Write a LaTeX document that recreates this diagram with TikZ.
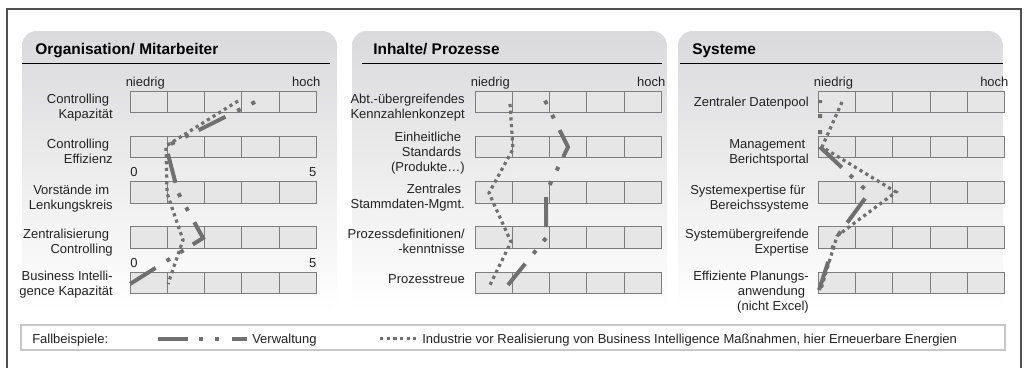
\documentclass[tikz,border=0pt]{standalone}
\usepackage{fontspec}
\setmainfont{Liberation Sans}
\definecolor{linegray}{RGB}{112,112,112}
\definecolor{paneltop}{RGB}{218,218,220}
\definecolor{cellgray}{RGB}{230,230,230}
\definecolor{cellborder}{RGB}{125,125,125}
\definecolor{txt}{RGB}{35,35,35}
\definecolor{framegray}{RGB}{80,80,80}
\definecolor{legendborder}{RGB}{200,200,200}
\newcommand\tsp{\kern2.7pt}
\tikzset{
  lbl/.style={font=\fontsize{9.75pt}{11.25pt}\selectfont, text=txt, inner sep=0pt, align=right, anchor=base east},
  plain/.style={font=\fontsize{9.75pt}{11.25pt}\selectfont, text=txt, inner sep=0pt},
  paneltitle/.style={font=\fontsize{11.6pt}{14pt}\selectfont\bfseries, text=black, inner sep=0pt, anchor=base west},
  cell/.style={fill=cellgray, draw=cellborder, line width=0.75pt},
  panelbg/.style={top color=paneltop, bottom color=white, rounded corners=11pt},
  verw/.style={draw=linegray, line width=3pt, dash pattern=on 22.5pt off 8.25pt on 3pt off 9pt on 3pt off 9.75pt},
  indu/.style={draw=linegray, line width=2.4pt, dash pattern=on 2.4pt off 2.6pt},
}
\begin{document}
\begin{tikzpicture}[x=0.75pt,y=-0.75pt]
\useasboundingbox (0,0) rectangle (1030,368);
% outer frame
\draw[framegray, line width=1.3pt] (7,368) -- (7,9) -- (1021,9) -- (1021,368);
% panels
\shade[panelbg] (22,31) rectangle (337,312);
\shade[panelbg] (352,31) rectangle (667,312);
\shade[panelbg] (678,31) rectangle (1003,312);
\draw[black, line width=0.8pt] (22,63.5) -- (330,63.5);
\draw[black, line width=0.8pt] (362,63.5) -- (662,63.5);
\draw[black, line width=0.8pt] (680,63.5) -- (1003,63.5);
\node[paneltitle] (t1) at (35,54.7) {Organisation/ Mitarbeiter};
\node[paneltitle] (t2) at (373,54.7) {Inhalte/ Prozesse};
\node[paneltitle] (t3) at (692,54.7) {Systeme};
% scale boxes
\foreach \xo in {130,475,818.2}{
  \foreach \r in {0,...,4}{
    \foreach \c in {0,...,4}{
      \draw[cell] ({\xo+37.3*\c},{91+45.25*\r}) rectangle ({\xo+37.3*(\c+1)},{112.5+45.25*\r});
    }
  }
}
% niedrig / hoch
\node[plain, anchor=base west] (n1) at (125.5,86) {niedrig};
\node[plain, anchor=base east] (h1) at (320.5,86) {hoch};
\node[plain, anchor=base west] (n2) at (470.5,86) {niedrig};
\node[plain, anchor=base east] (h2) at (665.5,86) {hoch};
\node[plain, anchor=base west] (n3) at (813.7,86) {niedrig};
\node[plain, anchor=base east] (h3) at (1008.7,86) {hoch};
% 0 / 5
\node[plain, anchor=base west] (z1) at (130,176) {0};
\node[plain, anchor=base east] (f1) at (316.5,176) {5};
\node[plain, anchor=base west] (z2) at (130,267.5) {0};
\node[plain, anchor=base east] (f2) at (316.5,267.5) {5};
% row labels panel 1 (anchored at the baseline of the last line)
\node[lbl] (l11) at (113,118.3) {Controlling\tsp\\Kapazität};
\node[lbl] (l12) at (113,163.3) {Controlling\tsp\\Effizienz};
\node[lbl] (l13) at (113,209) {Vorstände im\tsp\\Lenkungskreis};
\node[lbl] (l14) at (113,253.5) {Zentralisierung\tsp\\Controlling};
\node[lbl] (l15) at (113,295.5) {Business Intelli-\\gence Kapazität};
% row labels panel 2
\node[lbl] (l21) at (465,118.3) {Abt.-übergreifendes\\Kennzahlenkonzept};
\node[lbl] (l22) at (465,171) {Einheitliche\tsp\\Standards\tsp\\(Produkte…)};
\node[lbl] (l23) at (465,208.3) {Zentrales\tsp\\Stammdaten-Mgmt.};
\node[lbl] (l24) at (465,253.5) {Prozessdefinitionen/\\-kenntnisse};
\node[lbl] (l25) at (465,283.3) {Prozesstreue};
% row labels panel 3
\node[lbl] (l31) at (809,106.7) {Zentraler Datenpool};
\node[lbl] (l32) at (809,163.3) {Management\tsp\\Berichtsportal};
\node[lbl] (l33) at (809,209) {Systemexpertise für\tsp\\Bereichssysteme};
\node[lbl] (l34) at (809,253.5) {Systemübergreifende\\Expertise};
\node[lbl] (l35) at (809,310.5) {Effiziente Planungs-\\anwendung\tsp\\(nicht Excel)};
% profile points
\coordinate (va1) at (255,102);   \coordinate (va2) at (166,146.5);
\coordinate (va3) at (178,192.5); \coordinate (va4) at (203,238);
\coordinate (va5) at (130,284);
\coordinate (ia1) at (238,101);   \coordinate (ia2) at (166,146);
\coordinate (ia3) at (167,193);   \coordinate (ia4) at (183,240);
\coordinate (ia5) at (168,284);
\coordinate (vb1) at (545,100.5); \coordinate (vb2) at (568,147);
\coordinate (vb3) at (546,192.5); \coordinate (vb4) at (546,238);
\coordinate (vb5) at (508,285);
\coordinate (ib1) at (510,104);   \coordinate (ib2) at (513,149);
\coordinate (ib3) at (489,193);   \coordinate (ib4) at (511,242);
\coordinate (ib5) at (489,287);
\coordinate (vc1) at (820,100);   \coordinate (vc2) at (820,147);
\coordinate (vc3) at (869,193);   \coordinate (vc4) at (836,238);
\coordinate (vc5) at (819,290);
\coordinate (ic1) at (842,102);   \coordinate (ic2) at (822,147);
\coordinate (ic3) at (896,192);   \coordinate (ic4) at (837,236);
\coordinate (ic5) at (821,289);
% Verwaltung profiles
\draw[verw, dash phase=30.75pt] (va1) -- (va2) -- (va3) -- (va4) -- (va5);
\draw[verw, dash phase=30.75pt] (vb1) -- (vb2) -- (vb3) -- (vb4) -- (vb5);
\draw[verw, dash phase=20.25pt] (vc1) -- (vc2) -- (vc3) -- (vc4) -- (vc5);
% Industrie profiles
\draw[indu] (ia1) -- (ia2) -- (ia3) -- (ia4) -- (ia5);
\draw[indu] (ib1) -- (ib2) -- (ib3) -- (ib4) -- (ib5);
\draw[indu] (ic1) -- (ic2) -- (ic3) -- (ic4) -- (ic5);
% legend
\draw[legendborder, line width=0.9pt, fill=white] (21,325) rectangle (1005,350);
\node[plain, anchor=base west] (lg0) at (32,343) {Fallbeispiele:};
\coordinate (lv1) at (158,338.5); \coordinate (lv2) at (247,338.5);
\draw[verw] (lv1) -- (lv2);
\node[plain, anchor=base west] (lg1) at (252,343) {Verwaltung};
\coordinate (li1) at (380,338.5); \coordinate (li2) at (416,338.5);
\draw[indu] (li1) -- (li2);
\node[plain, anchor=base west] (lg2) at (422,343) {Industrie vor Realisierung von Business Intelligence Maßnahmen, hier Erneuerbare Energien};
\end{tikzpicture}
\end{document}
